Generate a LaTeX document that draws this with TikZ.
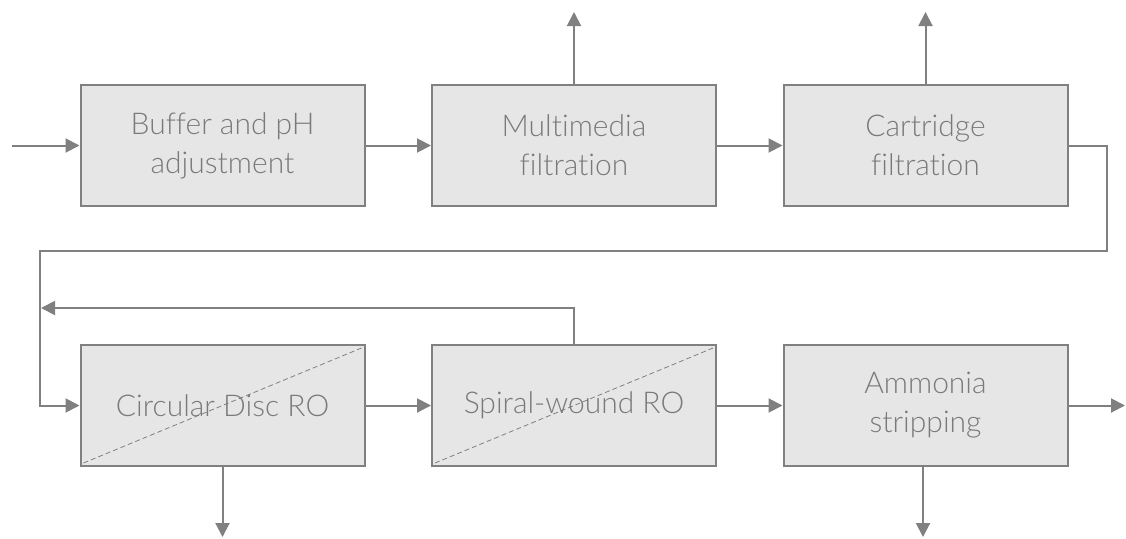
\documentclass[tikz,border=0pt]{standalone}
\usepackage{fontspec}
\setmainfont{Lato Light}[Ligatures={CommonOff}]
\usetikzlibrary{arrows.meta}
\definecolor{linegray}{HTML}{808080}
\definecolor{boxfill}{HTML}{E6E6E6}
\definecolor{txtgray}{HTML}{7A7A7A}
\begin{document}
\begin{tikzpicture}[x=1pt,y=-1pt,
  lbl/.style={text=txtgray, font=\fontsize{30}{39}\selectfont},
  proc/.style={draw=linegray, line width=2pt, fill=boxfill, minimum width=284pt, minimum height=121pt,
    inner sep=0pt, align=center, lbl},
  conn/.style={draw=linegray, line width=2pt},
  arr/.style={conn, -{Triangle[length=14pt,width=14pt]}},
  diag/.style={draw=linegray, line width=0.8pt, dash pattern=on 5pt off 3pt}]
\useasboundingbox (0,0) rectangle (1126,538);
\node[proc] (b1) at (222.5,145.5) {Buffer and pH\\adjustment};
\node[proc] (b2) at (574,145.5) {Multimedia\\filtration};
\node[proc] (b3) at (925.5,145.5) {Cartridge\\filtration};
\node[proc] (b4) at (222.5,405.5) {};
\node[proc] (b5) at (574,405.5) {};
\node[proc] (b6) at (925.5,405.5) {Ammonia\\stripping};
\draw[diag] ([shift={(4pt,4pt)}]b4.south west) -- ([shift={(-4pt,-4pt)}]b4.north east);
\draw[diag] ([shift={(4pt,4pt)}]b5.south west) -- ([shift={(-4pt,-4pt)}]b5.north east);
\node[lbl] (t4) at (b4) {Circular Disc RO};
\node[lbl] (t5) at (b5) {Spiral-wound RO};
\coordinate (in) at (12,145.5);
\coordinate (up2) at (574,12);
\coordinate (up3) at (925.5,12);
\coordinate (r1) at (1107,145.5);
\coordinate (r2) at (1107,251);
\coordinate (l1) at (40,251);
\coordinate (l2) at (40,405.5);
\coordinate (fb1) at (574,308);
\coordinate (fb2) at (41,308);
\coordinate (out) at (1125,405.5);
\coordinate (d4) at (222.5,537);
\coordinate (d6) at (923,537);
\draw[arr] (in) -- (b1.west);
\draw[arr] (b1.east) -- (b2.west);
\draw[arr] (b2.east) -- (b3.west);
\draw[arr] (b2.north) -- (up2);
\draw[arr] (b3.north) -- (up3);
\draw[arr] (b3.east) -- (r1) -- (r2) -- (l1) -- (l2) -- (b4.west);
\draw[arr] (b4.east) -- (b5.west);
\draw[arr] (b5.east) -- (b6.west);
\draw[arr] (b6.east) -- (out);
\draw[arr] (b5.north) -- (fb1) -- (fb2);
\draw[arr] (b4.south) -- (d4);
\draw[arr] (b6.south -| d6) -- (d6);
\end{tikzpicture}
\end{document}
